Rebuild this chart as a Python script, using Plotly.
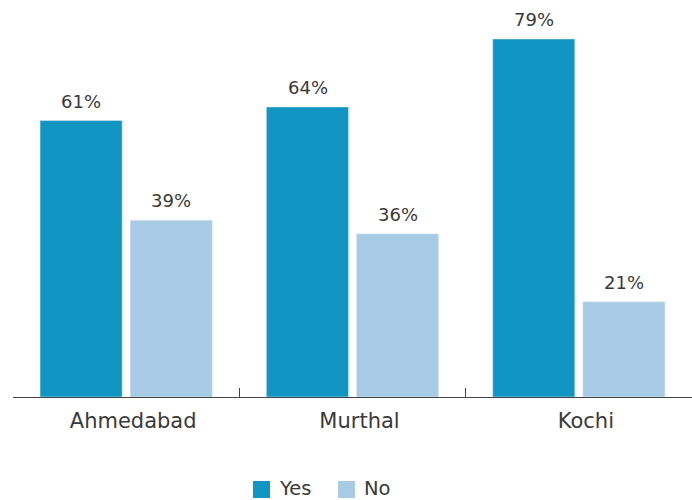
import plotly.graph_objects as go

cities = ["Ahmedabad", "Murthal", "Kochi"]
yes_pct = [61, 64, 79]
no_pct = [39, 36, 21]
series_names = ["Yes", "No"]

YES_COLOR = "#1196c4"
NO_COLOR = "#a7cbe4"
TEXT_COLOR = "#3a3a3a"
FONT = "DejaVu Sans, sans-serif"

# plot area geometry in pixels (used to place labels / legend in paper units)
W, H = 692, 500
ML, MT, MB = 13, 0, 103
PW, PH = W - ML, H - MT - MB

fig = go.Figure()
for name, vals, color in [("Yes", yes_pct, YES_COLOR), ("No", no_pct, NO_COLOR)]:
    fig.add_trace(go.Bar(name=name, x=cities, y=vals, marker_color=color,
                         showlegend=False))

# value labels above each bar, offset to the left/right bar of each group
for vals, dx in [(yes_pct, -45), (no_pct, 45)]:
    for c, v in zip(cities, vals):
        fig.add_annotation(x=c, y=v, text=f"{v}%", showarrow=False,
                           xshift=dx, yshift=7, yanchor="bottom",
                           font=dict(size=18, color=TEXT_COLOR, family=FONT))

# legend: coloured squares followed by labels
def px_x(p):
    return (p - ML) / PW

def px_y(p):
    return (PH + MT - p) / PH

legend_items = [(253, 277, YES_COLOR), (338, 362, NO_COLOR)]
for name, (sq_x, tx_x, color) in zip(series_names, legend_items):
    fig.add_shape(type="rect", xref="paper", yref="paper",
                  x0=px_x(sq_x), x1=px_x(sq_x + 17),
                  y0=px_y(481), y1=px_y(498),
                  fillcolor=color, line_width=0)
    fig.add_annotation(xref="paper", yref="paper", x=px_x(tx_x), y=px_y(488),
                       xanchor="left", yanchor="middle", text=name,
                       showarrow=False,
                       font=dict(size=19.5, color=TEXT_COLOR, family=FONT))

fig.update_layout(
    width=W, height=H,
    margin=dict(l=ML, r=0, t=MT, b=MB),
    paper_bgcolor="white", plot_bgcolor="white",
    font=dict(family=FONT, size=18, color=TEXT_COLOR),
    barmode="group", bargap=0.2035, bargroupgap=0.0889,
    showlegend=False,
    xaxis=dict(
        showline=True, linecolor="#444444", linewidth=1,
        ticks="inside", ticklen=9, tickcolor="#444444", tickson="boundaries",
        tickfont=dict(size=21, color=TEXT_COLOR), ticklabelshift=7,
        ticklabelstandoff=5,
        showgrid=False, range=[-0.5, 2.5],
    ),
    yaxis=dict(
        range=[0, 87.6], visible=False, showgrid=False, zeroline=False,
    ),
)

fig.write_html("out.html")
